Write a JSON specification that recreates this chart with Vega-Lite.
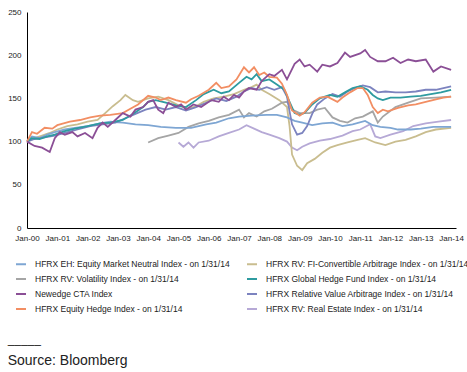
{
 "$schema": "https://vega.github.io/schema/vega-lite/v6.json",
 "width": 429,
 "height": 216,
 "autosize": "none",
 "padding": {"left": 27, "top": 12, "right": 11, "bottom": 144},
 "title": {"text": "─────", "subtitle": "Source: Bloomberg", "orient": "bottom", "anchor": "start", "frame": "bounds", "font": "DejaVu Sans", "fontSize": 11, "fontWeight": "normal", "color": "#333", "subtitleFont": "Liberation Sans", "subtitleFontSize": 14, "subtitleColor": "#222", "offset": 26, "subtitlePadding": 3},
 "data": {"values": [
  {"s":"RE","d":"2005-01","v":99},{"s":"RE","d":"2005-03","v":94},{"s":"RE","d":"2005-05","v":99},{"s":"RE","d":"2005-07","v":93},{"s":"RE","d":"2005-09","v":99},{"s":"RE","d":"2006-01","v":101},{"s":"RE","d":"2006-05","v":106},{"s":"RE","d":"2006-09","v":110},{"s":"RE","d":"2007-01","v":114},{"s":"RE","d":"2007-04","v":119},{"s":"RE","d":"2007-07","v":115},{"s":"RE","d":"2007-10","v":111},{"s":"RE","d":"2008-01","v":108},{"s":"RE","d":"2008-05","v":104},{"s":"RE","d":"2008-08","v":100},{"s":"RE","d":"2008-10","v":93},{"s":"RE","d":"2008-12","v":90},{"s":"RE","d":"2009-02","v":94},{"s":"RE","d":"2009-05","v":98},{"s":"RE","d":"2009-09","v":101},{"s":"RE","d":"2010-01","v":103},{"s":"RE","d":"2010-06","v":107},{"s":"RE","d":"2010-10","v":112},{"s":"RE","d":"2011-01","v":114},{"s":"RE","d":"2011-05","v":120},{"s":"RE","d":"2011-07","v":106},{"s":"RE","d":"2011-09","v":104},{"s":"RE","d":"2012-01","v":108},{"s":"RE","d":"2012-06","v":112},{"s":"RE","d":"2012-10","v":118},{"s":"RE","d":"2013-03","v":121},{"s":"RE","d":"2013-08","v":123},{"s":"RE","d":"2014-01","v":125},
  {"s":"FIC","d":"2000-01","v":100},{"s":"FIC","d":"2000-04","v":104},{"s":"FIC","d":"2000-07","v":107},{"s":"FIC","d":"2000-10","v":110},{"s":"FIC","d":"2001-01","v":114},{"s":"FIC","d":"2001-05","v":118},{"s":"FIC","d":"2001-09","v":120},{"s":"FIC","d":"2002-01","v":123},{"s":"FIC","d":"2002-05","v":125},{"s":"FIC","d":"2002-08","v":133},{"s":"FIC","d":"2002-11","v":141},{"s":"FIC","d":"2003-02","v":148},{"s":"FIC","d":"2003-04","v":154},{"s":"FIC","d":"2003-07","v":148},{"s":"FIC","d":"2003-09","v":146},{"s":"FIC","d":"2004-01","v":150},{"s":"FIC","d":"2004-05","v":152},{"s":"FIC","d":"2004-09","v":148},{"s":"FIC","d":"2005-01","v":142},{"s":"FIC","d":"2005-05","v":138},{"s":"FIC","d":"2005-08","v":141},{"s":"FIC","d":"2005-11","v":146},{"s":"FIC","d":"2006-03","v":150},{"s":"FIC","d":"2006-07","v":152},{"s":"FIC","d":"2006-11","v":155},{"s":"FIC","d":"2007-03","v":160},{"s":"FIC","d":"2007-06","v":163},{"s":"FIC","d":"2007-08","v":166},{"s":"FIC","d":"2007-10","v":160},{"s":"FIC","d":"2008-01","v":155},{"s":"FIC","d":"2008-05","v":148},{"s":"FIC","d":"2008-08","v":140},{"s":"FIC","d":"2008-09","v":118},{"s":"FIC","d":"2008-10","v":85},{"s":"FIC","d":"2008-12","v":72},{"s":"FIC","d":"2009-02","v":67},{"s":"FIC","d":"2009-04","v":75},{"s":"FIC","d":"2009-07","v":80},{"s":"FIC","d":"2009-10","v":87},{"s":"FIC","d":"2010-01","v":93},{"s":"FIC","d":"2010-04","v":96},{"s":"FIC","d":"2010-08","v":99},{"s":"FIC","d":"2010-12","v":102},{"s":"FIC","d":"2011-03","v":104},{"s":"FIC","d":"2011-07","v":99},{"s":"FIC","d":"2011-11","v":96},{"s":"FIC","d":"2012-03","v":100},{"s":"FIC","d":"2012-07","v":102},{"s":"FIC","d":"2012-11","v":106},{"s":"FIC","d":"2013-03","v":111},{"s":"FIC","d":"2013-07","v":114},{"s":"FIC","d":"2014-01","v":116},
  {"s":"VOL","d":"2004-01","v":99},{"s":"VOL","d":"2004-05","v":104},{"s":"VOL","d":"2004-09","v":107},{"s":"VOL","d":"2005-01","v":110},{"s":"VOL","d":"2005-05","v":117},{"s":"VOL","d":"2005-09","v":121},{"s":"VOL","d":"2006-01","v":124},{"s":"VOL","d":"2006-05","v":128},{"s":"VOL","d":"2006-09","v":131},{"s":"VOL","d":"2007-01","v":137},{"s":"VOL","d":"2007-03","v":128},{"s":"VOL","d":"2007-05","v":133},{"s":"VOL","d":"2007-08","v":129},{"s":"VOL","d":"2007-11","v":135},{"s":"VOL","d":"2008-02","v":138},{"s":"VOL","d":"2008-06","v":145},{"s":"VOL","d":"2008-08","v":146},{"s":"VOL","d":"2008-10","v":137},{"s":"VOL","d":"2009-01","v":133},{"s":"VOL","d":"2009-05","v":133},{"s":"VOL","d":"2009-08","v":137},{"s":"VOL","d":"2009-11","v":139},{"s":"VOL","d":"2010-02","v":128},{"s":"VOL","d":"2010-05","v":124},{"s":"VOL","d":"2010-08","v":122},{"s":"VOL","d":"2010-11","v":127},{"s":"VOL","d":"2011-02","v":129},{"s":"VOL","d":"2011-06","v":135},{"s":"VOL","d":"2011-08","v":122},{"s":"VOL","d":"2011-10","v":129},{"s":"VOL","d":"2012-03","v":140},{"s":"VOL","d":"2012-08","v":145},{"s":"VOL","d":"2013-01","v":150},{"s":"VOL","d":"2013-07","v":151},{"s":"VOL","d":"2014-01","v":152},
  {"s":"EMN","d":"2000-01","v":100},{"s":"EMN","d":"2000-03","v":106},{"s":"EMN","d":"2000-06","v":104},{"s":"EMN","d":"2000-09","v":108},{"s":"EMN","d":"2000-12","v":111},{"s":"EMN","d":"2001-04","v":114},{"s":"EMN","d":"2001-08","v":116},{"s":"EMN","d":"2002-01","v":118},{"s":"EMN","d":"2002-06","v":121},{"s":"EMN","d":"2002-10","v":123},{"s":"EMN","d":"2003-03","v":122},{"s":"EMN","d":"2003-08","v":120},{"s":"EMN","d":"2004-01","v":119},{"s":"EMN","d":"2004-06","v":117},{"s":"EMN","d":"2004-12","v":116},{"s":"EMN","d":"2005-06","v":116},{"s":"EMN","d":"2005-12","v":120},{"s":"EMN","d":"2006-04","v":122},{"s":"EMN","d":"2006-09","v":127},{"s":"EMN","d":"2007-01","v":129},{"s":"EMN","d":"2007-06","v":130},{"s":"EMN","d":"2007-12","v":131},{"s":"EMN","d":"2008-04","v":131},{"s":"EMN","d":"2008-08","v":128},{"s":"EMN","d":"2008-11","v":124},{"s":"EMN","d":"2009-02","v":122},{"s":"EMN","d":"2009-06","v":119},{"s":"EMN","d":"2009-10","v":121},{"s":"EMN","d":"2010-02","v":122},{"s":"EMN","d":"2010-06","v":118},{"s":"EMN","d":"2010-10","v":120},{"s":"EMN","d":"2011-03","v":124},{"s":"EMN","d":"2011-06","v":119},{"s":"EMN","d":"2011-09","v":117},{"s":"EMN","d":"2012-01","v":116},{"s":"EMN","d":"2012-04","v":114},{"s":"EMN","d":"2012-09","v":114},{"s":"EMN","d":"2013-01","v":115},{"s":"EMN","d":"2013-06","v":117},{"s":"EMN","d":"2014-01","v":117},
  {"s":"RVA","d":"2000-01","v":100},{"s":"RVA","d":"2000-04","v":103},{"s":"RVA","d":"2000-08","v":105},{"s":"RVA","d":"2000-12","v":107},{"s":"RVA","d":"2001-04","v":110},{"s":"RVA","d":"2001-09","v":114},{"s":"RVA","d":"2002-02","v":118},{"s":"RVA","d":"2002-07","v":120},{"s":"RVA","d":"2002-12","v":122},{"s":"RVA","d":"2003-04","v":127},{"s":"RVA","d":"2003-08","v":132},{"s":"RVA","d":"2003-12","v":137},{"s":"RVA","d":"2004-04","v":140},{"s":"RVA","d":"2004-08","v":137},{"s":"RVA","d":"2004-12","v":140},{"s":"RVA","d":"2005-04","v":136},{"s":"RVA","d":"2005-08","v":140},{"s":"RVA","d":"2005-12","v":145},{"s":"RVA","d":"2006-04","v":150},{"s":"RVA","d":"2006-08","v":147},{"s":"RVA","d":"2006-12","v":152},{"s":"RVA","d":"2007-03","v":158},{"s":"RVA","d":"2007-06","v":162},{"s":"RVA","d":"2007-09","v":160},{"s":"RVA","d":"2007-12","v":163},{"s":"RVA","d":"2008-03","v":160},{"s":"RVA","d":"2008-06","v":163},{"s":"RVA","d":"2008-08","v":152},{"s":"RVA","d":"2008-09","v":135},{"s":"RVA","d":"2008-10","v":120},{"s":"RVA","d":"2008-12","v":108},{"s":"RVA","d":"2009-02","v":110},{"s":"RVA","d":"2009-04","v":118},{"s":"RVA","d":"2009-06","v":132},{"s":"RVA","d":"2009-08","v":143},{"s":"RVA","d":"2009-11","v":150},{"s":"RVA","d":"2010-02","v":155},{"s":"RVA","d":"2010-05","v":152},{"s":"RVA","d":"2010-08","v":158},{"s":"RVA","d":"2010-11","v":162},{"s":"RVA","d":"2011-02","v":165},{"s":"RVA","d":"2011-05","v":163},{"s":"RVA","d":"2011-08","v":157},{"s":"RVA","d":"2011-11","v":158},{"s":"RVA","d":"2012-03","v":157},{"s":"RVA","d":"2012-07","v":157},{"s":"RVA","d":"2012-11","v":158},{"s":"RVA","d":"2013-03","v":160},{"s":"RVA","d":"2013-07","v":160},{"s":"RVA","d":"2014-01","v":164},
  {"s":"GHF","d":"2000-01","v":100},{"s":"GHF","d":"2000-03","v":104},{"s":"GHF","d":"2000-06","v":103},{"s":"GHF","d":"2000-09","v":106},{"s":"GHF","d":"2000-12","v":108},{"s":"GHF","d":"2001-04","v":112},{"s":"GHF","d":"2001-08","v":115},{"s":"GHF","d":"2002-01","v":118},{"s":"GHF","d":"2002-06","v":121},{"s":"GHF","d":"2002-10","v":122},{"s":"GHF","d":"2003-03","v":125},{"s":"GHF","d":"2003-07","v":132},{"s":"GHF","d":"2003-11","v":140},{"s":"GHF","d":"2004-01","v":146},{"s":"GHF","d":"2004-04","v":148},{"s":"GHF","d":"2004-08","v":145},{"s":"GHF","d":"2004-12","v":142},{"s":"GHF","d":"2005-04","v":140},{"s":"GHF","d":"2005-08","v":148},{"s":"GHF","d":"2005-11","v":155},{"s":"GHF","d":"2006-03","v":160},{"s":"GHF","d":"2006-06","v":156},{"s":"GHF","d":"2006-09","v":158},{"s":"GHF","d":"2007-01","v":168},{"s":"GHF","d":"2007-04","v":175},{"s":"GHF","d":"2007-06","v":172},{"s":"GHF","d":"2007-08","v":178},{"s":"GHF","d":"2007-10","v":170},{"s":"GHF","d":"2008-01","v":172},{"s":"GHF","d":"2008-04","v":166},{"s":"GHF","d":"2008-07","v":160},{"s":"GHF","d":"2008-09","v":146},{"s":"GHF","d":"2008-11","v":133},{"s":"GHF","d":"2009-01","v":131},{"s":"GHF","d":"2009-03","v":133},{"s":"GHF","d":"2009-06","v":143},{"s":"GHF","d":"2009-09","v":150},{"s":"GHF","d":"2010-01","v":154},{"s":"GHF","d":"2010-04","v":152},{"s":"GHF","d":"2010-07","v":157},{"s":"GHF","d":"2010-10","v":162},{"s":"GHF","d":"2011-01","v":164},{"s":"GHF","d":"2011-04","v":160},{"s":"GHF","d":"2011-06","v":154},{"s":"GHF","d":"2011-08","v":150},{"s":"GHF","d":"2011-10","v":148},{"s":"GHF","d":"2012-01","v":151},{"s":"GHF","d":"2012-05","v":151},{"s":"GHF","d":"2012-09","v":152},{"s":"GHF","d":"2013-01","v":153},{"s":"GHF","d":"2013-05","v":155},{"s":"GHF","d":"2013-09","v":157},{"s":"GHF","d":"2014-01","v":160},
  {"s":"EH","d":"2000-01","v":100},{"s":"EH","d":"2000-03","v":111},{"s":"EH","d":"2000-05","v":109},{"s":"EH","d":"2000-08","v":116},{"s":"EH","d":"2000-11","v":115},{"s":"EH","d":"2001-01","v":119},{"s":"EH","d":"2001-06","v":123},{"s":"EH","d":"2001-10","v":125},{"s":"EH","d":"2002-02","v":128},{"s":"EH","d":"2002-06","v":130},{"s":"EH","d":"2002-10","v":131},{"s":"EH","d":"2003-03","v":133},{"s":"EH","d":"2003-06","v":138},{"s":"EH","d":"2003-09","v":143},{"s":"EH","d":"2004-01","v":153},{"s":"EH","d":"2004-04","v":151},{"s":"EH","d":"2004-06","v":148},{"s":"EH","d":"2004-09","v":151},{"s":"EH","d":"2004-12","v":148},{"s":"EH","d":"2005-04","v":145},{"s":"EH","d":"2005-06","v":149},{"s":"EH","d":"2005-09","v":153},{"s":"EH","d":"2006-01","v":160},{"s":"EH","d":"2006-04","v":168},{"s":"EH","d":"2006-06","v":162},{"s":"EH","d":"2006-09","v":164},{"s":"EH","d":"2006-12","v":172},{"s":"EH","d":"2007-03","v":186},{"s":"EH","d":"2007-05","v":180},{"s":"EH","d":"2007-07","v":186},{"s":"EH","d":"2007-09","v":177},{"s":"EH","d":"2007-11","v":180},{"s":"EH","d":"2008-01","v":175},{"s":"EH","d":"2008-04","v":174},{"s":"EH","d":"2008-06","v":167},{"s":"EH","d":"2008-08","v":154},{"s":"EH","d":"2008-10","v":136},{"s":"EH","d":"2009-01","v":130},{"s":"EH","d":"2009-03","v":134},{"s":"EH","d":"2009-06","v":145},{"s":"EH","d":"2009-09","v":151},{"s":"EH","d":"2009-12","v":152},{"s":"EH","d":"2010-04","v":146},{"s":"EH","d":"2010-06","v":151},{"s":"EH","d":"2010-09","v":157},{"s":"EH","d":"2010-12","v":162},{"s":"EH","d":"2011-02","v":162},{"s":"EH","d":"2011-04","v":154},{"s":"EH","d":"2011-06","v":140},{"s":"EH","d":"2011-08","v":133},{"s":"EH","d":"2011-10","v":137},{"s":"EH","d":"2011-12","v":135},{"s":"EH","d":"2012-04","v":139},{"s":"EH","d":"2012-08","v":142},{"s":"EH","d":"2012-11","v":143},{"s":"EH","d":"2013-03","v":146},{"s":"EH","d":"2013-07","v":149},{"s":"EH","d":"2013-10","v":151},{"s":"EH","d":"2014-01","v":152},
  {"s":"CTA","d":"2000-01","v":100},{"s":"CTA","d":"2000-04","v":95},{"s":"CTA","d":"2000-07","v":93},{"s":"CTA","d":"2000-10","v":88},{"s":"CTA","d":"2000-12","v":104},{"s":"CTA","d":"2001-02","v":111},{"s":"CTA","d":"2001-04","v":108},{"s":"CTA","d":"2001-07","v":111},{"s":"CTA","d":"2001-09","v":106},{"s":"CTA","d":"2001-12","v":110},{"s":"CTA","d":"2002-03","v":104},{"s":"CTA","d":"2002-05","v":116},{"s":"CTA","d":"2002-07","v":122},{"s":"CTA","d":"2002-09","v":117},{"s":"CTA","d":"2002-12","v":125},{"s":"CTA","d":"2003-03","v":133},{"s":"CTA","d":"2003-06","v":129},{"s":"CTA","d":"2003-08","v":137},{"s":"CTA","d":"2003-11","v":140},{"s":"CTA","d":"2004-01","v":146},{"s":"CTA","d":"2004-03","v":148},{"s":"CTA","d":"2004-05","v":137},{"s":"CTA","d":"2004-07","v":133},{"s":"CTA","d":"2004-09","v":145},{"s":"CTA","d":"2004-12","v":140},{"s":"CTA","d":"2005-02","v":143},{"s":"CTA","d":"2005-04","v":137},{"s":"CTA","d":"2005-07","v":143},{"s":"CTA","d":"2005-10","v":140},{"s":"CTA","d":"2006-02","v":148},{"s":"CTA","d":"2006-05","v":146},{"s":"CTA","d":"2006-07","v":152},{"s":"CTA","d":"2006-09","v":148},{"s":"CTA","d":"2006-11","v":154},{"s":"CTA","d":"2007-01","v":151},{"s":"CTA","d":"2007-03","v":158},{"s":"CTA","d":"2007-05","v":162},{"s":"CTA","d":"2007-08","v":160},{"s":"CTA","d":"2007-10","v":170},{"s":"CTA","d":"2008-01","v":178},{"s":"CTA","d":"2008-03","v":176},{"s":"CTA","d":"2008-06","v":183},{"s":"CTA","d":"2008-08","v":172},{"s":"CTA","d":"2008-11","v":190},{"s":"CTA","d":"2009-01","v":195},{"s":"CTA","d":"2009-03","v":187},{"s":"CTA","d":"2009-05","v":189},{"s":"CTA","d":"2009-08","v":181},{"s":"CTA","d":"2009-10","v":189},{"s":"CTA","d":"2010-01","v":187},{"s":"CTA","d":"2010-04","v":191},{"s":"CTA","d":"2010-07","v":203},{"s":"CTA","d":"2010-09","v":198},{"s":"CTA","d":"2011-01","v":202},{"s":"CTA","d":"2011-03","v":206},{"s":"CTA","d":"2011-05","v":198},{"s":"CTA","d":"2011-08","v":193},{"s":"CTA","d":"2011-11","v":193},{"s":"CTA","d":"2012-02","v":197},{"s":"CTA","d":"2012-05","v":191},{"s":"CTA","d":"2012-08","v":195},{"s":"CTA","d":"2012-11","v":193},{"s":"CTA","d":"2013-03","v":195},{"s":"CTA","d":"2013-06","v":181},{"s":"CTA","d":"2013-09","v":187},{"s":"CTA","d":"2014-01","v":183}
 ]},
 "transform": [{"lookup": "s", "from": {"data": {"values": [
   {"s":"EMN","n":"HFRX EH: Equity Market Neutral Index - on 1/31/14"},
   {"s":"FIC","n":"HFRX RV: FI-Convertible Arbitrage Index - on 1/31/14"},
   {"s":"VOL","n":"HFRX RV: Volatility Index - on 1/31/14"},
   {"s":"GHF","n":"HFRX Global Hedge Fund Index - on 1/31/14"},
   {"s":"CTA","n":"Newedge CTA Index"},
   {"s":"RVA","n":"HFRX Relative Value Arbitrage Index - on 1/31/14"},
   {"s":"EH","n":"HFRX Equity Hedge Index - on 1/31/14"},
   {"s":"RE","n":"HFRX RV: Real Estate Index - on 1/31/14"}
 ]}, "key": "s", "fields": ["n"]}}],
 "mark": {"type": "line", "strokeWidth": 1.8},
 "encoding": {
  "x": {"field": "d", "type": "temporal",
        "scale": {"type": "utc", "domain": [{"year": 2000, "month": 1, "date": 1, "utc": true}, {"year": 2014, "month": 3, "date": 1, "utc": true}]},
        "axis": {"title": null, "labelExpr": "utcFormat(datum.value, '%b-%y')", "tickCount": {"interval": "year", "step": 1}, "grid": false, "ticks": false, "tickSize": 0, "domainColor": "#000", "domainWidth": 1, "labelFontSize": 8, "labelColor": "#222", "labelPadding": 6, "labelFlush": false, "labelOverlap": false}},
  "y": {"field": "v", "type": "quantitative",
        "scale": {"domain": [0, 250], "nice": false},
        "axis": {"title": null, "values": [0, 50, 100, 150, 200, 250], "grid": false, "ticks": false, "tickSize": 0, "domainColor": "#000", "domainWidth": 1, "labelFontSize": 8, "labelColor": "#222", "labelPadding": 6}},
  "color": {"field": "n", "type": "nominal",
        "scale": {"domain": ["HFRX EH: Equity Market Neutral Index - on 1/31/14", "HFRX RV: FI-Convertible Arbitrage Index - on 1/31/14", "HFRX RV: Volatility Index - on 1/31/14", "HFRX Global Hedge Fund Index - on 1/31/14", "Newedge CTA Index", "HFRX Relative Value Arbitrage Index - on 1/31/14", "HFRX Equity Hedge Index - on 1/31/14", "HFRX RV: Real Estate Index - on 1/31/14"],
                  "range": ["#7ea6d3", "#c9bd8f", "#a5a5a5", "#2e9ba0", "#8b4f96", "#7c83bf", "#f28e63", "#b6a9d6"]},
        "legend": {"title": null, "orient": "none", "direction": "horizontal", "legendX": -12, "legendY": 246, "columns": 2, "symbolType": "stroke", "symbolSize": 100, "symbolStrokeWidth": 2, "labelFontSize": 8.5, "labelLimit": 300, "labelColor": "#222", "columnPadding": 13, "rowPadding": 4, "labelOffset": 8}}
 },
 "config": {"view": {"stroke": null}, "font": "Liberation Sans"}
}
